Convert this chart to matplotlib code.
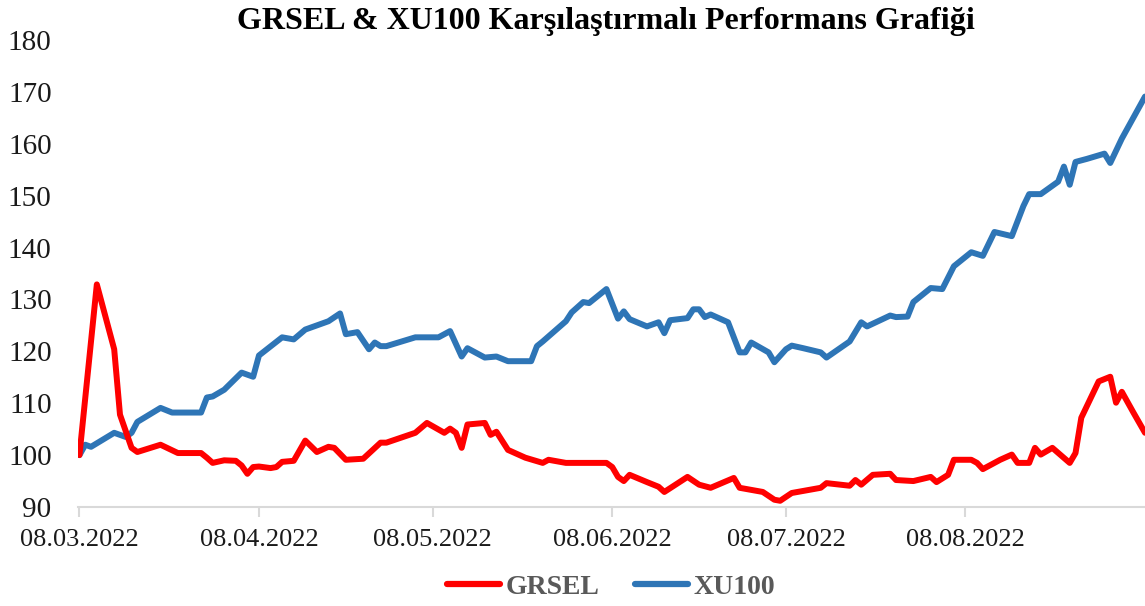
import matplotlib
matplotlib.use("Agg")
import matplotlib.pyplot as plt
import pandas as pd

grsel_dates = ["2022-03-08", "2022-03-11", "2022-03-14", "2022-03-15", "2022-03-17", "2022-03-18",
               "2022-03-22", "2022-03-25", "2022-03-29", "2022-03-30", "2022-03-31", "2022-04-02",
               "2022-04-04", "2022-04-05", "2022-04-06", "2022-04-07", "2022-04-08", "2022-04-10",
               "2022-04-11", "2022-04-12", "2022-04-14", "2022-04-16", "2022-04-18", "2022-04-20",
               "2022-04-21", "2022-04-23", "2022-04-26", "2022-04-29", "2022-04-30", "2022-05-05",
               "2022-05-07", "2022-05-10", "2022-05-11", "2022-05-12", "2022-05-13", "2022-05-14",
               "2022-05-17", "2022-05-18", "2022-05-19", "2022-05-21", "2022-05-24", "2022-05-27",
               "2022-05-28", "2022-05-31", "2022-06-07", "2022-06-08", "2022-06-09", "2022-06-10",
               "2022-06-11", "2022-06-14", "2022-06-16", "2022-06-17", "2022-06-21", "2022-06-23",
               "2022-06-25", "2022-06-29", "2022-06-30", "2022-07-04", "2022-07-06", "2022-07-07",
               "2022-07-09", "2022-07-11", "2022-07-14", "2022-07-15", "2022-07-19", "2022-07-20",
               "2022-07-21", "2022-07-23", "2022-07-26", "2022-07-27", "2022-07-30", "2022-08-02",
               "2022-08-03", "2022-08-05", "2022-08-06", "2022-08-09", "2022-08-10", "2022-08-11",
               "2022-08-14", "2022-08-16", "2022-08-17", "2022-08-19", "2022-08-20", "2022-08-21",
               "2022-08-23", "2022-08-26", "2022-08-27", "2022-08-28", "2022-08-31", "2022-09-02",
               "2022-09-03", "2022-09-04", "2022-09-06", "2022-09-08"]
grsel_values = [100.0, 132.9, 120.4, 107.8, 101.4, 100.6,
                102.0, 100.4, 100.4, 99.5, 98.5, 99.0,
                98.9, 98.0, 96.4, 97.7, 97.8, 97.5,
                97.7, 98.7, 98.9, 102.8, 100.6, 101.6,
                101.4, 99.1, 99.3, 102.4, 102.4, 104.3,
                106.2, 104.3, 105.1, 104.3, 101.4, 105.9,
                106.2, 103.9, 104.5, 101.0, 99.5, 98.5,
                99.1, 98.5, 98.5, 97.7, 95.8, 95.0,
                96.2, 94.8, 93.9, 92.9, 95.8, 94.3,
                93.7, 95.6, 93.7, 92.9, 91.4, 91.2,
                92.7, 93.1, 93.7, 94.6, 94.1, 95.2,
                94.3, 96.2, 96.4, 95.2, 95.0, 95.8,
                94.8, 96.2, 99.1, 99.1, 98.5, 97.3,
                99.1, 100.1, 98.5, 98.5, 101.4, 100.1,
                101.4, 98.5, 100.4, 107.2, 114.2, 115.1,
                110.1, 112.2, 108.2, 104.3]

xu100_dates = ["2022-03-08", "2022-03-09", "2022-03-10", "2022-03-14", "2022-03-16", "2022-03-17",
               "2022-03-18", "2022-03-22", "2022-03-24", "2022-03-29", "2022-03-30", "2022-03-31",
               "2022-04-02", "2022-04-05", "2022-04-07", "2022-04-08", "2022-04-12", "2022-04-14",
               "2022-04-16", "2022-04-20", "2022-04-22", "2022-04-23", "2022-04-25", "2022-04-27",
               "2022-04-28", "2022-04-29", "2022-04-30", "2022-05-05", "2022-05-09", "2022-05-11",
               "2022-05-13", "2022-05-14", "2022-05-17", "2022-05-19", "2022-05-21", "2022-05-25",
               "2022-05-26", "2022-05-27", "2022-05-31", "2022-06-01", "2022-06-03", "2022-06-04",
               "2022-06-07", "2022-06-09", "2022-06-10", "2022-06-11", "2022-06-14", "2022-06-16",
               "2022-06-17", "2022-06-18", "2022-06-21", "2022-06-22", "2022-06-23", "2022-06-24",
               "2022-06-25", "2022-06-28", "2022-06-30", "2022-07-01", "2022-07-02", "2022-07-05",
               "2022-07-06", "2022-07-08", "2022-07-09", "2022-07-11", "2022-07-14", "2022-07-15",
               "2022-07-19", "2022-07-21", "2022-07-22", "2022-07-26", "2022-07-27", "2022-07-29",
               "2022-07-30", "2022-08-02", "2022-08-04", "2022-08-06", "2022-08-09", "2022-08-11",
               "2022-08-13", "2022-08-16", "2022-08-18", "2022-08-19", "2022-08-21", "2022-08-24",
               "2022-08-25", "2022-08-26", "2022-08-27", "2022-08-29", "2022-09-01", "2022-09-02",
               "2022-09-04", "2022-09-08"]
xu100_values = [100.0, 102.0, 101.6, 104.3, 103.5, 104.3,
                106.4, 109.1, 108.2, 108.2, 111.1, 111.3,
                112.6, 115.9, 115.1, 119.2, 122.7, 122.3,
                124.2, 125.8, 127.3, 123.3, 123.7, 120.4,
                121.7, 121.0, 121.0, 122.7, 122.7, 123.9,
                119.0, 120.6, 118.8, 119.0, 118.1, 118.1,
                121.0, 121.9, 125.8, 127.5, 129.5, 129.3,
                132.0, 126.3, 127.7, 126.2, 124.8, 125.6,
                123.5, 126.0, 126.4, 128.1, 128.1, 126.6,
                127.1, 125.6, 119.8, 119.8, 121.7, 119.8,
                117.9, 120.4, 121.1, 120.6, 119.8, 118.8,
                121.9, 125.6, 124.8, 126.9, 126.6, 126.7,
                129.5, 132.2, 132.0, 136.4, 139.1, 138.4,
                143.0, 142.2, 148.0, 150.3, 150.3, 152.7,
                155.6, 152.1, 156.5, 157.1, 158.1, 156.3,
                161.0, 169.1]

tick_dates = ["2022-03-08", "2022-04-08", "2022-05-08", "2022-06-08", "2022-07-08", "2022-08-08"]
tick_labels = ["08.03.2022", "08.04.2022", "08.05.2022", "08.06.2022", "08.07.2022", "08.08.2022"]
y_ticks = [90, 100, 110, 120, 130, 140, 150, 160, 170, 180]

title = "GRSEL & XU100 Karşılaştırmalı Performans Grafiği"

plt.rcParams['font.family'] = ['Liberation Serif', 'DejaVu Serif']

fig = plt.figure(figsize=(11.45, 6.06), dpi=100)
ax = fig.add_axes([78 / 1145, 1 - 507 / 606, 1 - 78 / 1145, (507 - 40) / 606])

gd = pd.to_datetime(grsel_dates)
xd = pd.to_datetime(xu100_dates)

ax.plot(gd, grsel_values, color="#FF0000", lw=4.3, solid_joinstyle="round",
        solid_capstyle="round", label="GRSEL", zorder=3)
ax.plot(xd, xu100_values, color="#2E75B6", lw=4.3, solid_joinstyle="round",
        solid_capstyle="round", label="XU100", zorder=2)

ax.set_xlim(pd.Timestamp(grsel_dates[0]) - pd.Timedelta(hours=6), pd.Timestamp(grsel_dates[-1]))
ax.set_ylim(90, 180)
ax.set_yticks(y_ticks)
ax.set_yticklabels([str(v) for v in y_ticks])
ax.set_xticks(pd.to_datetime(tick_dates))
ax.set_xticklabels(tick_labels)

for s in ["top", "right", "left"]:
    ax.spines[s].set_visible(False)
ax.spines["bottom"].set_color("#D9D9D9")
ax.spines["bottom"].set_linewidth(1.5)
ax.spines["bottom"].set_zorder(1)

ax.tick_params(axis="y", length=0, pad=19, labelsize=21, labelcolor="#1a1a1a")
ax.tick_params(axis="x", length=7, width=1.5, color="#D9D9D9", pad=9, labelsize=19,
               labelcolor="#1a1a1a", direction="out")
ax.set_facecolor("none")

fig.text(606 / 1145, 1 - 21 / 606, title, ha="center", va="center",
         fontsize=23, fontweight="bold", color="#000000")

leg = fig.legend(loc="center", bbox_to_anchor=(611 / 1145, 1 - 587 / 606), ncol=2,
                 frameon=False, handlelength=1.9, handletextpad=0.2, columnspacing=1.3,
                 prop={"size": 20, "weight": "bold"})
for t in leg.get_texts():
    t.set_color("#595959")
for h in leg.get_lines():
    h.set_linewidth(4.5)

fig.savefig("out.png", dpi=100)
